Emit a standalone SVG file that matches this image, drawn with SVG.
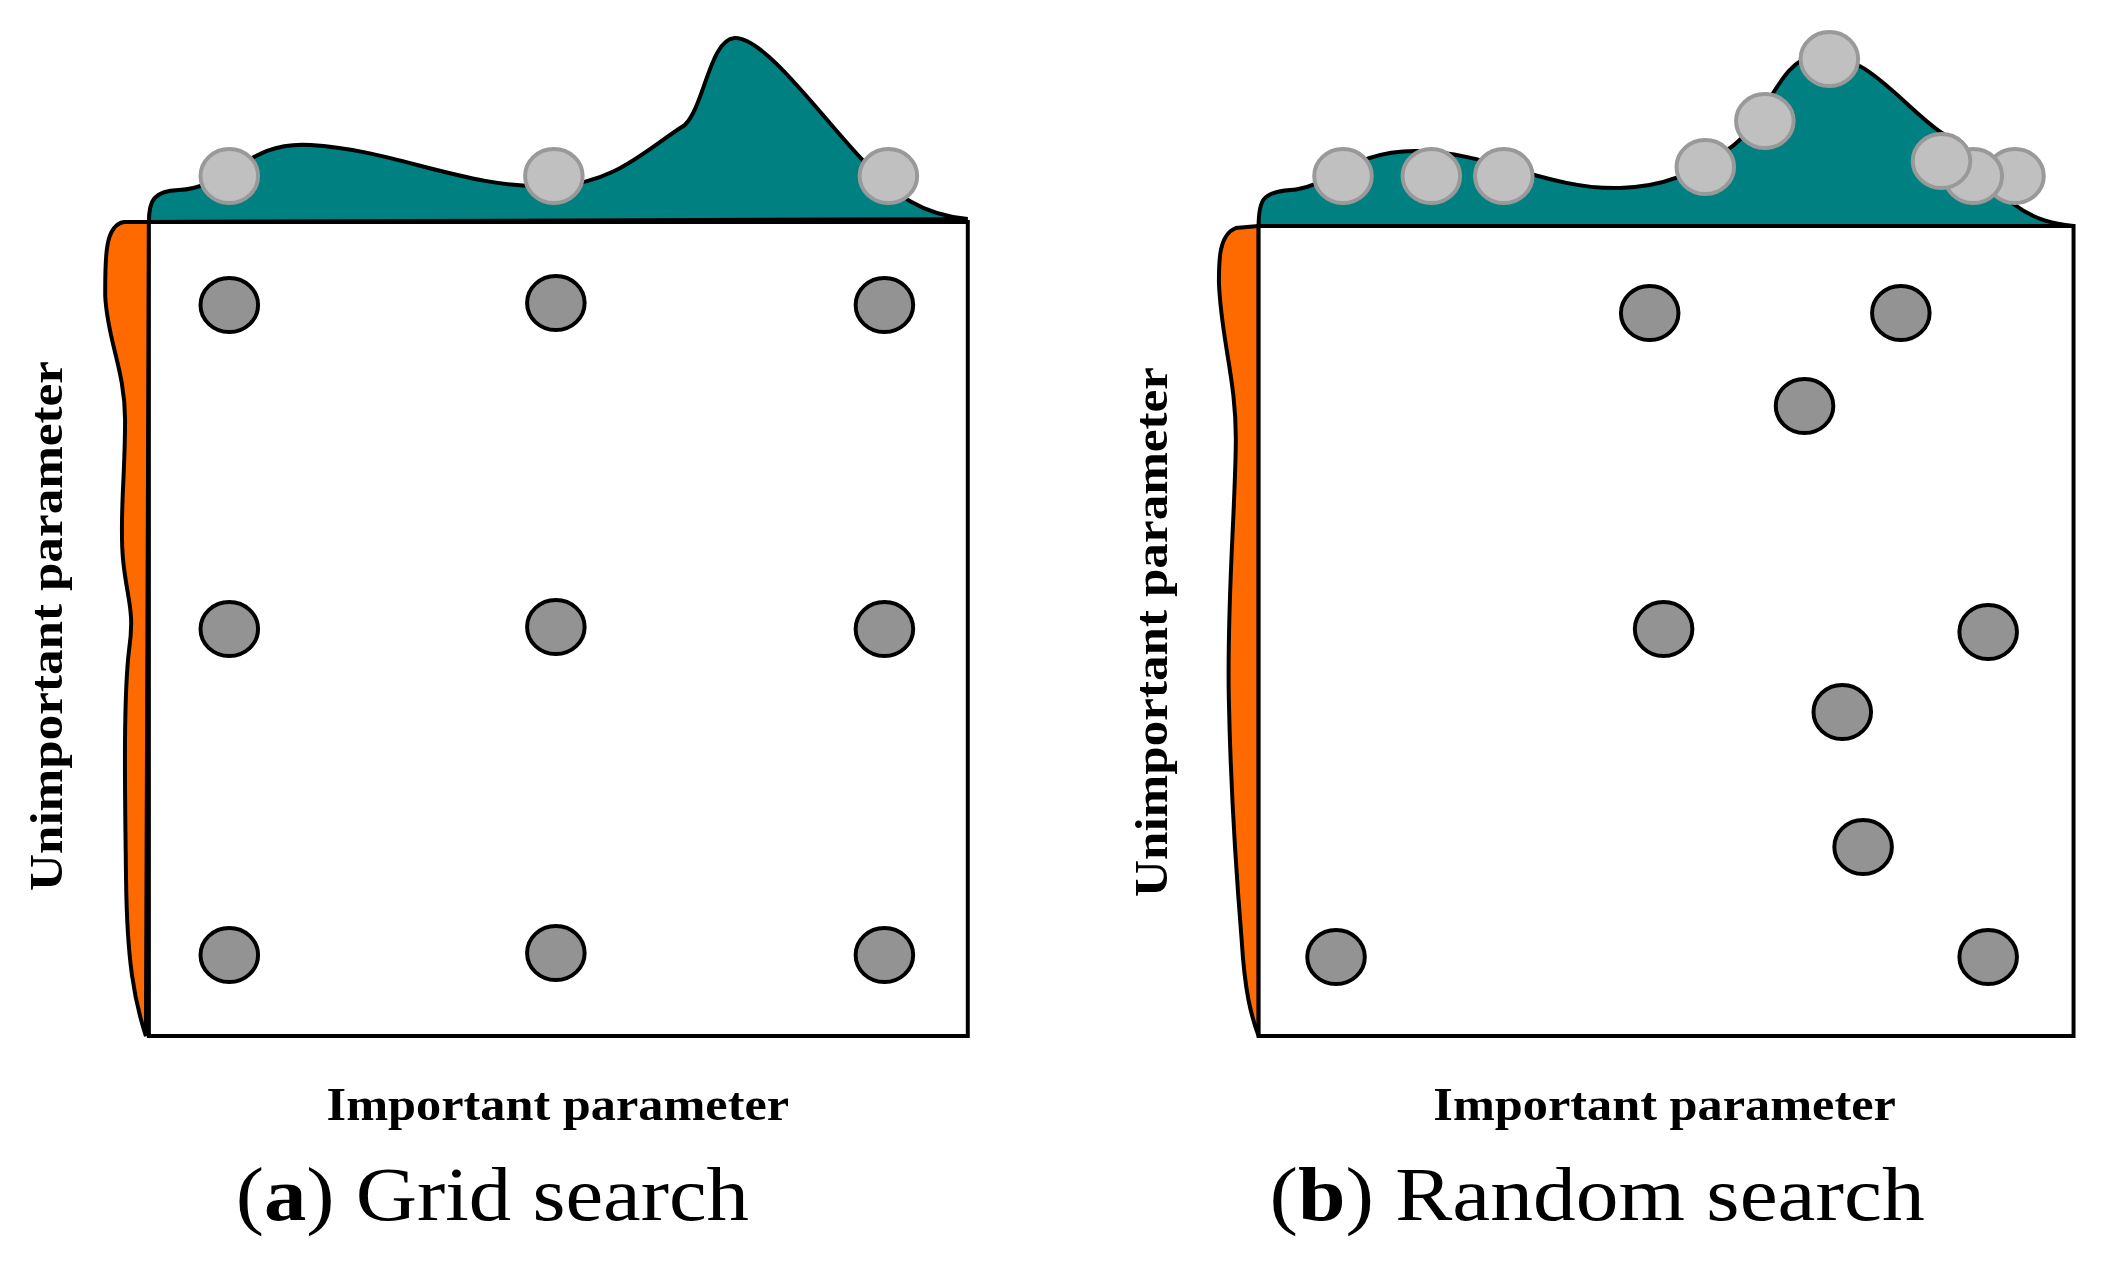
<svg xmlns="http://www.w3.org/2000/svg" width="2110" height="1263" viewBox="0 0 2110 1263">
<style>
.teal{fill:#008080;stroke:#000;stroke-width:4}
.orng{fill:#ff6a00;stroke:#000;stroke-width:4}
.box{fill:#fff;stroke:#000;stroke-width:4}
.d{fill:#939393;stroke:#000;stroke-width:4}
.t{fill:#c0c0c0;stroke:#999;stroke-width:4}
.lab{font-family:"Liberation Serif",serif;font-weight:bold;font-size:46px;fill:#000}
.cap{font-family:"Liberation Serif",serif;font-size:76px;fill:#000}
</style>
<rect width="2110" height="1263" fill="#fff"/>
<g transform="scale(0.9926,1)">
<g id="panel-a">
<path class="teal" d="M150,222 C150,200 155,191 180,190 C230,188 250,140 313,145 C400,150 470,190 560,186 C620,183 650,150 690,125 C710,105 715,40 740,38 C770,36 830,120 870,161 C900,195 930,215 975,219 Z"/>
<path class="orng" d="M150,222 L125,222 C105,225 106,260 106,296 C108,340 126,370 126,420 C126,480 120,520 124,560 C128,600 136,610 130,650 C124,700 126,800 127,880 C128,960 135,1000 147,1036 Z"/>
<rect class="box" x="150" y="222" width="825" height="814"/>
<g class="t"><ellipse cx="231" cy="176" rx="29" ry="27"/><ellipse cx="558" cy="176" rx="29" ry="27"/><ellipse cx="895" cy="176" rx="29" ry="27"/></g>
<g class="d">
<ellipse cx="231" cy="305" rx="29" ry="27"/><ellipse cx="560" cy="303" rx="29" ry="27"/><ellipse cx="891" cy="305" rx="29" ry="27"/>
<ellipse cx="231" cy="629" rx="29" ry="27"/><ellipse cx="560" cy="627" rx="29" ry="27"/><ellipse cx="891" cy="629" rx="29" ry="27"/>
<ellipse cx="231" cy="955" rx="29" ry="27"/><ellipse cx="560" cy="953" rx="29" ry="27"/><ellipse cx="891" cy="955" rx="29" ry="27"/>
</g>
<text class="lab" x="562" y="1120" text-anchor="middle" textLength="466" lengthAdjust="spacingAndGlyphs">Important parameter</text>
<text class="lab" transform="translate(62,626) rotate(-90)" text-anchor="middle" textLength="530" lengthAdjust="spacingAndGlyphs">Unimportant parameter</text>
<text class="cap" x="496" y="1220" text-anchor="middle" textLength="517" lengthAdjust="spacingAndGlyphs">(<tspan font-weight="bold">a</tspan>) Grid search</text>
</g>
<g id="panel-b">
<path class="teal" d="M1268,226 C1268,200 1272,192 1300,190 C1340,188 1360,150 1428,151 C1500,152 1560,190 1632,188 C1680,186 1700,175 1740,150 C1780,125 1790,60 1830,55 C1880,50 1920,110 1958,134 C1990,160 2010,190 2030,205 C2050,220 2070,224 2089,226 Z"/>
<path class="orng" d="M1268,226 L1245,228 C1228,235 1228,260 1228,282 C1230,340 1246,380 1245,444 C1244,520 1236,600 1238,699 C1240,800 1246,880 1251,941 C1254,990 1260,1015 1268,1036 Z"/>
<rect class="box" x="1268" y="226" width="821" height="810"/>
<g class="t">
<ellipse cx="1353" cy="176" rx="29" ry="27"/><ellipse cx="1442" cy="176" rx="29" ry="27"/><ellipse cx="1515" cy="176" rx="29" ry="27"/>
<ellipse cx="1718" cy="167" rx="29" ry="27"/><ellipse cx="1778" cy="121" rx="29" ry="27"/><ellipse cx="1843" cy="59" rx="29" ry="27"/>
<ellipse cx="2030" cy="176" rx="29" ry="27"/><ellipse cx="1988" cy="176" rx="29" ry="27"/><ellipse cx="1956" cy="161" rx="29" ry="27"/>
</g>
<g class="d">
<ellipse cx="1662" cy="313" rx="29" ry="27"/><ellipse cx="1915" cy="313" rx="29" ry="27"/><ellipse cx="1818" cy="406" rx="29" ry="27"/>
<ellipse cx="1676" cy="629" rx="29" ry="27"/><ellipse cx="2003" cy="632" rx="29" ry="27"/><ellipse cx="1856" cy="712" rx="29" ry="27"/>
<ellipse cx="1877" cy="847" rx="29" ry="27"/><ellipse cx="1346" cy="957" rx="29" ry="27"/><ellipse cx="2003" cy="957" rx="29" ry="27"/>
</g>
<text class="lab" x="1677" y="1120" text-anchor="middle" textLength="466" lengthAdjust="spacingAndGlyphs">Important parameter</text>
<text class="lab" transform="translate(1176,632) rotate(-90)" text-anchor="middle" textLength="530" lengthAdjust="spacingAndGlyphs">Unimportant parameter</text>
<text class="cap" x="1609" y="1220" text-anchor="middle" textLength="660" lengthAdjust="spacingAndGlyphs">(<tspan font-weight="bold">b</tspan>) Random search</text>
</g>
</g>
</svg>
